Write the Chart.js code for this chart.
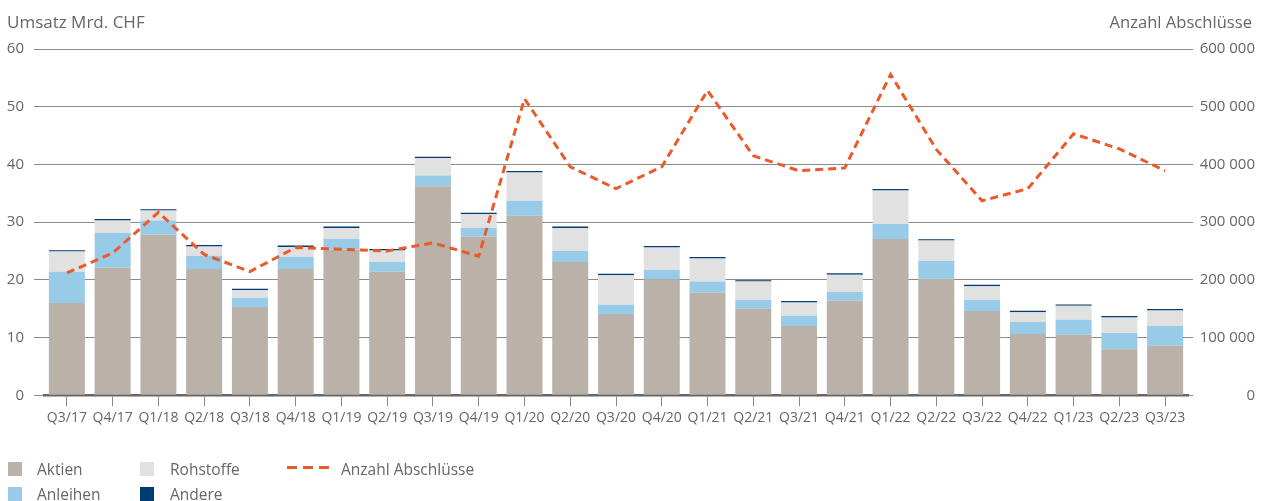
<!DOCTYPE html>
<html>
<head>
<meta charset="utf-8">
<script src="https://cdn.jsdelivr.net/npm/chart.js@4.4.1/dist/chart.umd.min.js"></script>
<style>
  html, body { margin: 0; padding: 0; background: #fff; }
  body { width: 1273px; height: 501px; position: relative; overflow: hidden; font-family: 'Open Sans', sans-serif; color: #666; }
  #wrap { position: absolute; left: 0; top: 0; width: 1273px; height: 501px; }
  .ttl { position: absolute; font-size: 17px; line-height: 17px; white-space: nowrap; }
  .lg { position: absolute; font-size: 15.5px; line-height: 16px; white-space: nowrap; }
  .sw { position: absolute; width: 14px; height: 14px; }
  .ln { position: absolute; height: 3px; width: 42px;
        background: repeating-linear-gradient(90deg, #ea5a2b 0 10px, transparent 10px 16px); }
</style>
</head>
<body>
<div id="wrap"><canvas id="c" width="1273" height="501"></canvas></div>
<div class="ttl" style="left:7px; top:13px;">Umsatz Mrd. CHF</div>
<div class="ttl" style="right:21px; top:13px; font-size:16.6px;">Anzahl Abschlüsse</div>

<div class="sw" style="left:8px; top:462px; background:#bab1a8;"></div>
<div class="lg" style="left:37px; top:461px;">Aktien</div>
<div class="sw" style="left:8px; top:487px; background:#97cbe8;"></div>
<div class="lg" style="left:37px; top:486px;">Anleihen</div>
<div class="sw" style="left:140px; top:462px; background:#e1e1e1;"></div>
<div class="lg" style="left:170px; top:461px;">Rohstoffe</div>
<div class="sw" style="left:140px; top:487px; background:#003b73;"></div>
<div class="lg" style="left:170px; top:486px;">Andere</div>
<div class="ln" style="left:287px; top:466px;"></div>
<div class="lg" style="left:341px; top:461px;">Anzahl Abschlüsse</div>

<script>
const categories = ['Q3/17','Q4/17','Q1/18','Q2/18','Q3/18','Q4/18','Q1/19','Q2/19','Q3/19','Q4/19',
  'Q1/20','Q2/20','Q3/20','Q4/20','Q1/21','Q2/21','Q3/21','Q4/21','Q1/22','Q2/22',
  'Q3/22','Q4/22','Q1/23','Q2/23','Q3/23'];
const aktien    = [16.0,22.1,27.8,21.9,15.3,21.9,25.2,21.4,36.2,27.5,31.1,23.1,14.1,20.1,17.8,15.0,12.0,16.4,27.1,20.2,14.6,10.6,10.5,8.0,8.6];
const anleihen  = [5.4,6.0,2.5,2.3,1.6,2.1,1.9,1.7,1.9,1.5,2.6,1.9,1.6,1.6,1.9,1.5,1.8,1.5,2.6,3.1,1.9,2.1,2.6,2.8,3.4];
const rohstoffe = [3.5,2.2,1.7,1.6,1.3,1.7,1.9,2.0,3.0,2.4,4.9,4.0,5.1,3.9,4.0,3.2,2.3,3.0,5.8,3.5,2.4,1.7,2.4,2.7,2.7];
const andere    = [0.25,0.25,0.25,0.25,0.25,0.25,0.25,0.25,0.25,0.25,0.25,0.25,0.25,0.25,0.25,0.25,0.25,0.25,0.25,0.25,0.25,0.25,0.25,0.25,0.25];
const abschluesse = [212000,246500,317000,244000,214500,256000,253000,250000,264000,241000,
  514000,396000,358000,396000,528000,415000,389000,394000,556000,426000,
  337000,358000,453000,427000,389000];
const leftTicks = [0,10,20,30,40,50,60];
const rightTicks = [0,100000,200000,300000,400000,500000,600000];

const fmt = v => String(v).replace(/\B(?=(\d{3})+(?!\d))/g, ' ');

Chart.defaults.font.family = "'Open Sans', sans-serif";
Chart.defaults.color = '#666';
Chart.defaults.animation = false;

new Chart(document.getElementById('c'), {
  data: {
    labels: categories,
    datasets: [
      { type: 'line', label: 'Anzahl Abschlüsse', data: abschluesse, yAxisID: 'y2',
        borderColor: '#ea5a2b', borderWidth: 3, borderDash: [8, 5], pointRadius: 0,
        tension: 0, fill: false, order: 0 },
      { type: 'bar', label: 'Aktien', data: aktien, backgroundColor: '#bab1a8', stack: 's', yAxisID: 'y', order: 1 },
      { type: 'bar', label: 'Anleihen', data: anleihen, backgroundColor: '#97cbe8', stack: 's', yAxisID: 'y', order: 1 },
      { type: 'bar', label: 'Rohstoffe', data: rohstoffe, backgroundColor: '#e1e1e1', stack: 's', yAxisID: 'y', order: 1 },
      { type: 'bar', label: 'Andere', data: andere, backgroundColor: '#003b73', stack: 's', yAxisID: 'y', order: 1 }
    ]
  },
  options: {
    responsive: false,
    maintainAspectRatio: false,
    animation: false,
    datasets: { bar: { barPercentage: 0.787, categoryPercentage: 1.0 } },
    layout: { padding: { top: 49, right: 18, left: 0, bottom: 75.7 } },
    plugins: { legend: { display: false }, tooltip: { enabled: false } },
    scales: {
      x: {
        stacked: true,
        offset: true,
        afterFit: s => { s.height = 30; },
        grid: { display: true, drawOnChartArea: false, drawTicks: true, tickLength: 11, offset: false, color: '#888', lineWidth: 1 },
        border: { display: true, color: '#666', width: 2.5 },
        ticks: { font: { size: 14 }, color: '#666', padding: 3, maxRotation: 0, autoSkip: false }
      },
      y: {
        stacked: true,
        position: 'left',
        min: 0, max: 60,
        afterFit: s => { s.width = 44; },
        afterBuildTicks: s => { s.ticks = leftTicks.map(v => ({ value: v })); },
        grid: { color: '#8a8a8a', lineWidth: 1, drawTicks: true, tickLength: 10 },
        border: { display: false },
        ticks: { font: { size: 15 }, color: '#666', padding: 10 }
      },
      y2: {
        position: 'right',
        min: 0, max: 600000,
        afterFit: s => { s.width = 67; },
        afterBuildTicks: s => { s.ticks = rightTicks.map(v => ({ value: v })); },
        grid: { drawOnChartArea: false, drawTicks: true, tickLength: 5, color: '#8a8a8a', lineWidth: 1 },
        border: { display: false },
        ticks: { font: { size: 15 }, color: '#666', crossAlign: 'far', callback: v => fmt(v) }
      }
    }
  }
});
</script>
</body>
</html>
